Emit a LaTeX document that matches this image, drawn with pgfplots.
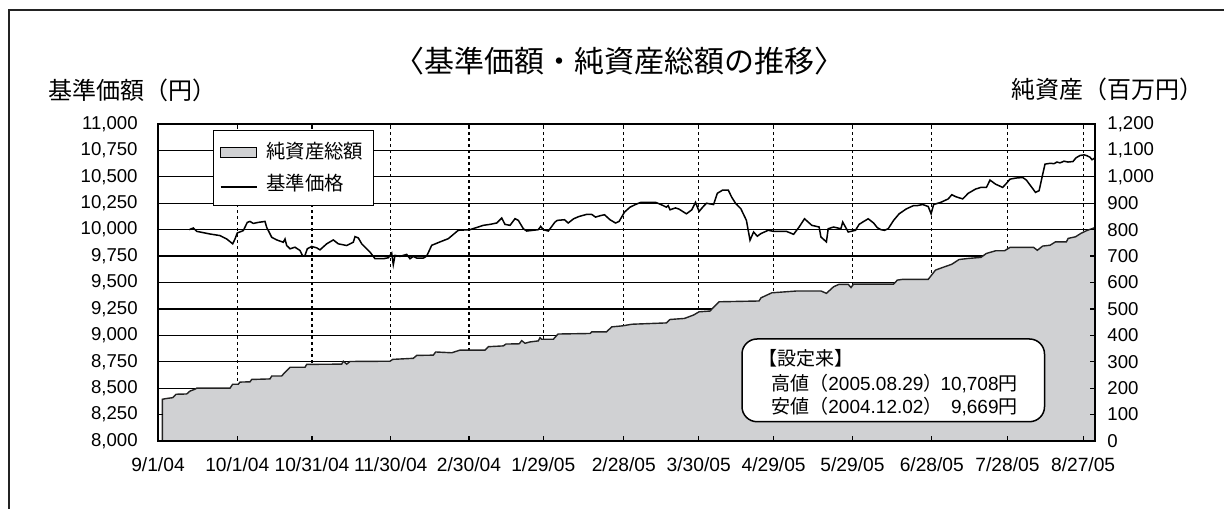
\documentclass[border=0pt]{standalone}
\usepackage{fontspec}
\setmainfont{Liberation Sans}
\newfontfamily\cjk{Noto Sans CJK JP}
\usepackage{pgfplots}
\usepackage{pgfplotstable}
\pgfplotsset{compat=1.18}
\definecolor{areagray}{RGB}{208,209,211}
\definecolor{edge}{RGB}{35,35,35}

% x = position along the trading-day axis (axis spans 158 .. 1095)
\pgfplotstableread{
x y
162.3 158
166.7 161
172.7 164
176 177
186.7 178
190 189
195 196
196.7 200
230 200
232.7 215
238.3 215
240 223
250 224
251.7 233
270 235
271.7 246
281.7 246
283.3 253
290 279
305 279
306.7 290
341.7 291
343.3 302
346.7 291
350 301
390 302
392.7 309
413.3 313
416.7 324
433.3 325
435.7 337
451.7 334
460 344
485 344
488.3 357
503.3 360
506 367
519.3 368
521.7 380
525 370
530 375
538.3 379
540 391
541.7 385
553.3 385
558 405
590 407
591.8 413
606.4 413
611.8 432
622.7 436
631.8 442
666.4 447
670 460
684.5 464
693.6 477
699 489
710 492
719 527
759 530
761 542
771.8 561
797.3 568
820.9 568
826.4 559
833.6 584
839 593
848.2 593
851 581
853.6 594
893.6 594
897.3 609
902.7 612
928.2 612
935.5 647
942.7 657
951.8 669
959 687
968.2 691
980.9 695
986.4 710
995.5 720
1004.5 720
1010 733
1033.6 733
1037.3 722
1042.7 738
1050 741
1055.5 754
1066.4 754
1068.2 767
1075.5 773
1080.9 786
1086.4 796
1095 808
}\assets

\pgfplotstableread{
x y
189.3 10000
193.3 10016
196.7 9984
210 9959
220 9944
226.7 9912
232.7 9866
235 9912
237.3 9969
243.3 9991
247.3 10069
250 10078
253.3 10059
258.3 10069
265 10078
266.7 10022
271.7 9928
276.7 9903
283.3 9881
285 9912
286.7 9850
290 9819
295 9834
300 9803
302.7 9750
305 9756
307.3 9819
311.7 9841
316.7 9828
320 9809
326.7 9866
333.3 9903
338.3 9866
346.7 9850
353.3 9881
355 9934
358.3 9922
361.7 9866
370 9788
375 9725
383.3 9725
388.3 9734
391.7 9778
393.3 9669
395 9756
400 9747
406.7 9766
410 9725
413.3 9747
416.7 9731
423.3 9731
426.7 9750
431.7 9852
440 9884
448.3 9915
458.3 9994
470 10000
483.3 10041
490 10050
496.7 10063
501.7 10110
505 10050
510 10041
515 10104
518.3 10088
523.3 10009
526.7 9987
538.3 10000
540.7 10031
543.3 10000
548.3 9987
555 10072
557.3 10088
564.5 10094
568.2 10063
573.6 10103
579.1 10125
586.4 10144
591.8 10144
595.5 10119
600.9 10134
604.5 10141
610 10094
615.5 10063
619.1 10078
624.5 10166
630 10213
635.5 10238
640.9 10259
655.5 10259
660.9 10238
666.4 10213
668.2 10228
670 10188
675.5 10206
679.1 10194
686.4 10150
691.8 10188
695.5 10259
699.1 10172
702.7 10213
706.4 10250
713.6 10238
717.3 10344
722.7 10375
728.2 10375
731.8 10306
735.5 10250
740.9 10197
746.4 10088
750 9900
753.6 9978
757.3 9938
760.9 9963
768.2 9994
773.6 9984
786.4 9984
793.6 9956
799.1 10025
804.5 10103
811.8 10041
819.1 10025
820.9 9931
826.4 9884
828.2 10009
833.6 10025
840.9 10009
842.7 10072
846.4 10009
848.2 9978
855.5 9994
859.1 10050
862.7 10072
868.2 10103
873.6 10063
877.3 10019
880.9 10000
884.5 9994
888.2 10009
893.6 10088
899.1 10150
906.4 10197
913.6 10228
917.3 10228
922.7 10238
928.2 10219
931.1 10150
933.6 10238
940.9 10259
948.2 10291
951.8 10331
955.5 10313
962.7 10291
968.2 10344
975.5 10384
980.9 10400
986.4 10400
990 10469
995.5 10431
1002.7 10400
1006.4 10438
1010 10478
1015.5 10488
1022.7 10494
1026.4 10469
1031.8 10400
1035.5 10353
1039.1 10369
1042.7 10525
1045 10620
1050 10628
1054 10625
1057 10640
1060 10632
1064 10648
1068 10640
1073 10645
1076 10680
1080 10702
1084 10708
1087 10700
1090 10685
1092 10662
1095 10680
}\nav

\pgfplotsset{
  common/.style={
    at={(79bp,34bp)}, anchor=south west, scale only axis,
    width=468.5bp, height=158.5bp,
    xmin=158, xmax=1095,
    xtick={158,237.3,312,390.7,469,543.3,623.8,698.7,773.6,852.5,931.8,1007.5,1083.1},
    axis line style={line width=0.6bp, black},
    every tick/.style={line width=0.6bp, black},
    tick align=inside,
    major tick length=2.5bp,
    scaled y ticks=false,
    /pgf/number format/1000 sep={,},
    /pgf/number format/fixed,
    /pgf/number format/assume math mode=true,
    yticklabel style={font=\fontsize{9.3bp}{10bp}\selectfont},
    xticklabel style={font=\fontsize{9.6bp}{10bp}\selectfont},
  },
  arealegend/.style={legend image code/.code={\draw[##1] (0bp,-2.5bp) rectangle (18bp,2.5bp);}},
  linelegend/.style={legend image code/.code={\draw[##1] (0bp,-1.5bp) -- (18bp,-1.5bp);}},
}

\begin{document}
\begin{tikzpicture}
\path[use as bounding box] (0,0) rectangle (612bp,254.5bp);
\draw[line width=0.75bp, color=edge] (4.5bp,0) -- (4.5bp,249.5bp) -- (612bp,249.5bp);

% net assets (right axis), grid behind
\begin{axis}[common,
  ymin=0, ymax=1200, ytick={0,100,...,1200},
  yticklabel pos=right,
  xticklabels={},
  xmajorgrids, ymajorgrids,
  x grid style={line width=0.6bp, black, dash pattern=on 1.6bp off 1.4bp},
  y grid style={line width=0.6bp, black},
  major tick length=0pt,
  yticklabel style={inner xsep=0pt, xshift=6bp, anchor=west},
]
\addplot[fill=areagray, draw=edge, line width=0.7bp] table[x=x,y=y]{\assets} \closedcycle;
\end{axis}

% NAV (left axis)
\begin{axis}[common,
  ymin=8000, ymax=11000, ytick={8000,8250,...,11000},
  xtick pos=both, ytick pos=both,
  xticklabel pos=lower, yticklabel pos=left,
  xticklabels={9/1/04,10/1/04,10/31/04,11/30/04,2/30/04,1/29/05,2/28/05,3/30/05,4/29/05,5/29/05,6/28/05,7/28/05,8/27/05},
  yticklabel style={inner xsep=0pt, xshift=-10bp, anchor=east},
  xticklabel style={inner sep=0pt, yshift=-8bp, anchor=north},
  legend cell align=left,
  legend style={at={(0.059,0.981)}, anchor=north west, draw=black, line width=0.6bp, fill=white,
    font=\cjk\fontsize{9.7bp}{11bp}\selectfont,
    inner xsep=3bp, inner ysep=4bp, row sep=2.25bp, column sep=2.5bp,
    nodes={inner sep=2bp, text depth=0.15em}},
]
\addlegendimage{arealegend, fill=areagray, draw=black, line width=0.6bp}
\addlegendentry{純資産総額}
\addplot[black, line width=0.75bp, linelegend] table[x=x,y=y]{\nav};
\addlegendentry{基準価格}
\end{axis}

% titles
\node[anchor=center, inner sep=0pt, font=\cjk\fontsize{15bp}{17bp}\selectfont] at (309.5bp,224bp) {〈基準価額・純資産総額の推移〉};
\node[anchor=west, inner sep=0pt, font=\cjk\fontsize{12bp}{14bp}\selectfont] at (24bp,209.5bp) {基準価額（円）};
\node[anchor=east, inner sep=0pt, font=\cjk\fontsize{12bp}{14bp}\selectfont] at (602bp,210bp) {純資産（百万円）};

% annotation box
\draw[line width=0.75bp, fill=white, rounded corners=7.5bp] (371bp,43.65bp) rectangle (522.25bp,85bp);
\begin{scope}[every node/.style={inner sep=0pt, font=\fontsize{9.5bp}{12bp}\selectfont}]
\node[anchor=base west] at (379bp,71.75bp) {\cjk 【設定来】};
\node[anchor=base west] at (385.5bp,59.25bp) {{\cjk 高値（}2005.08.29{\cjk ）}};
\node[anchor=base east] at (509bp,59.25bp) {10,708{\cjk 円}};
\node[anchor=base west] at (385.5bp,47.75bp) {{\cjk 安値（}2004.12.02{\cjk ）}};
\node[anchor=base east] at (509bp,47.75bp) {9,669{\cjk 円}};
\end{scope}
\end{tikzpicture}
\end{document}
